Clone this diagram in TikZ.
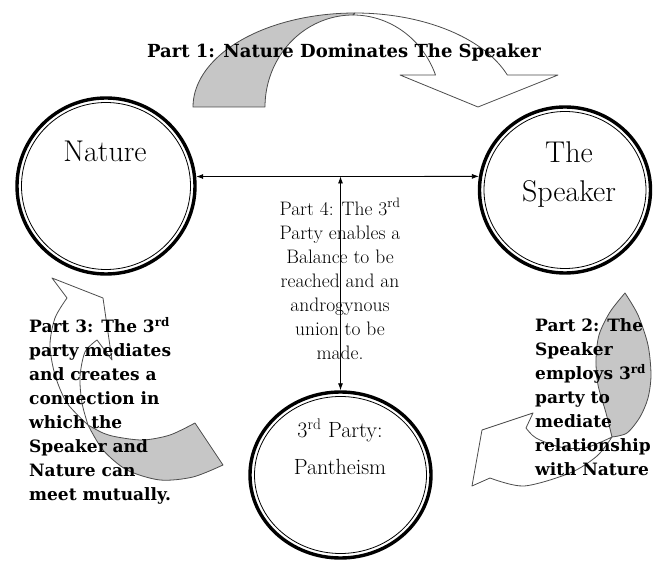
\documentclass[tikz,border=0pt]{standalone}
\usepackage{fontspec}
\newfontfamily\boldserif{DejaVu Serif}
\usetikzlibrary{shapes.geometric,arrows.meta}
\tikzset{
	ring/.style={ellipse, draw, line width=3.4pt, inner sep=0pt},
	ringin/.style={line width=0.8pt},
	partbold/.style={font=\boldserif\bfseries\fontsize{17}{24}\selectfont, align=left, inner sep=0pt},
	partlight/.style={font=\fontsize{19.5}{24}\selectfont, align=center, inner sep=0pt},
	circtxt/.style={font=\fontsize{30}{39}\selectfont, align=center, inner sep=0pt},
	link/.style={{Latex[length=7pt,width=5pt]}-{Latex[length=7pt,width=5pt]}, line width=0.8pt},
	band/.style={draw=black!70, line width=0.8pt, line join=round, fill=white},
	shade/.style={band, fill=gray!45}
}

\begin{document}
\begin{tikzpicture}[x=1pt, y=-1pt]
	\useasboundingbox (0,0) rectangle (657,561);

	% curved arrows
	\filldraw[shade] plot[domain=180:90, samples=40, variable=\t] ({355+162*cos(\t)},{107-94*sin(\t)})
		-- plot[domain=90:180, samples=40, variable=\t] ({353+88*cos(\t)},{107-92*sin(\t)}) -- cycle;
	\filldraw[band] plot[domain=90:19.9, samples=40, variable=\t] ({355+162*cos(\t)},{107-94*sin(\t)})
		-- (558,75) -- (478,107) -- (400,75)
		-- plot[domain=20.35:90, samples=40, variable=\t] ({353+88*cos(\t)},{107-92*sin(\t)}) -- cycle;

	\filldraw[shade] plot[smooth] coordinates {(625,293) (610,312) (599,335) (596,360) (598,385) (606,413) (612,437)}
		-- plot[smooth] coordinates {(612,437) (627,433) (640,417) (648,398) (651,375) (648,345) (638,315) (625,293)} -- cycle;
	\filldraw[band] (472,486) -- (482,430) -- (533,413) -- (526,428)
		-- plot[smooth] coordinates {(526,428) (536,438) (560,447) (585,448) (612,437)}
		-- plot[smooth] coordinates {(612,437) (597,456) (570,473) (524,486) (490,478)} -- cycle;

	\filldraw[shade] plot[smooth] coordinates {(88,425) (103,433) (117,437) (143,440) (170,435) (195,423)}
		-- (223,465)
		-- plot[smooth] coordinates {(223,465) (193,477) (160,480) (127,470) (103,450) (88,425)} -- cycle;
	\filldraw[band] (52,278) -- (103,298) -- (112,360) -- (97,340)
		-- plot[smooth] coordinates {(97,340) (85,352) (80,377) (82,403) (88,425)}
		-- plot[smooth] coordinates {(88,425) (67,403) (55,375) (50,345) (55,318) (67,298)} -- cycle;

	% the three parties
	\node[ring, minimum width=178pt, minimum height=176pt] (nat) at (106,186) {};
	\node[ring, minimum width=171pt, minimum height=166pt] (spk) at (565,190) {};
	\node[ring, minimum width=181pt, minimum height=166pt] (pty) at (340.5,475) {};
	\draw[ringin] (nat.center) ellipse[x radius=84.5pt, y radius=83.5pt];
	\draw[ringin] (spk.center) ellipse[x radius=81pt, y radius=78.5pt];
	\draw[ringin] (pty.center) ellipse[x radius=86pt, y radius=78.5pt];

	\node[circtxt] (natlbl) at (105,151) {Nature};
	\node[circtxt] (spklbl) at (569,175) {The\\Speaker};
	\node[circtxt, font=\fontsize{22}{37}\selectfont] (ptylbl) at (340,447) {3\textsuperscript{rd} Party:\\Pantheism};

	\draw[link] (nat.6) -- coordinate (hub) (spk.171);
	\draw[link] (pty.north) -- (pty.north |- hub);

	% labels
	\node[partbold, font=\boldserif\bfseries\fontsize{18}{24}\selectfont] (p1) at (344,53) {Part 1: Nature Dominates The Speaker};
	\node[partbold, anchor=west] (p2) at (535,397) {Part 2: The\\Speaker\\employs 3\textsuperscript{rd}\\party to\\mediate\\relationship\\with Nature};
	\node[partbold, anchor=west] (p3) at (29,411) {Part 3: The 3\textsuperscript{rd}\\party mediates\\and creates a\\connection in\\which the\\Speaker and\\Nature can\\meet mutually.};
	\node[partlight] (p4) at (340,279) {Part 4: The 3\textsuperscript{rd}\\Party enables a\\Balance to be\\reached and an\\androgynous\\union to be\\made.};
\end{tikzpicture}
\end{document}
